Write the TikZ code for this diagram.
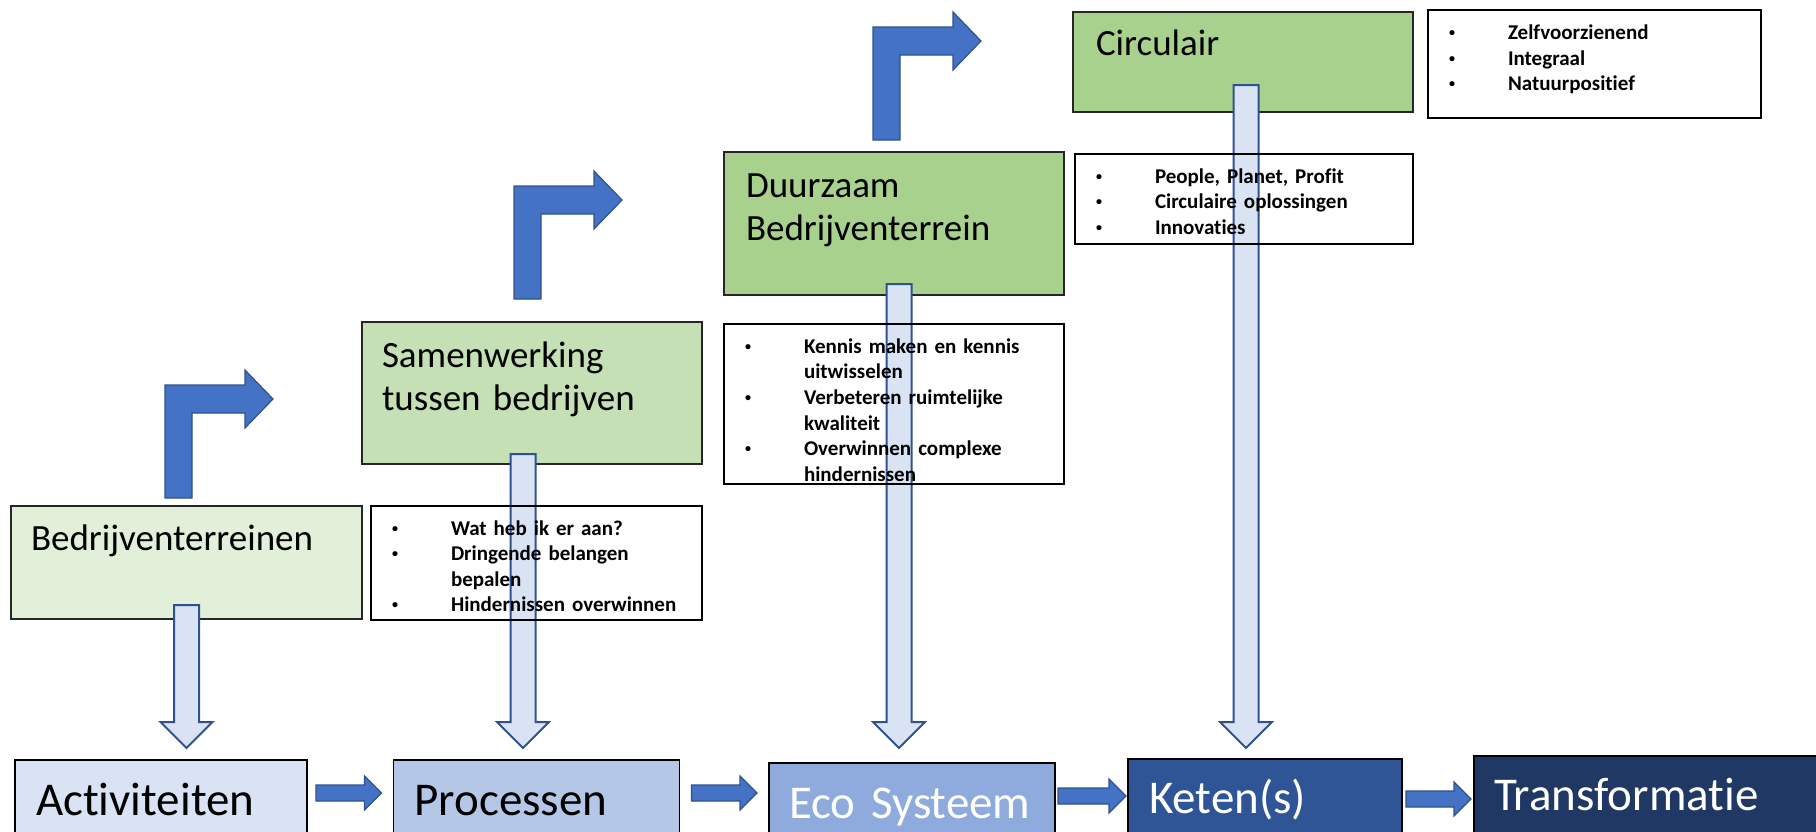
\documentclass[tikz,border=0pt]{standalone}
\usepackage{fontspec}
\setmainfont{Carlito}[Ligatures=NoCommon]
\usepackage{xcolor}
\usetikzlibrary{calc}

\definecolor{green1}{HTML}{E2F0D9}
\definecolor{green2}{HTML}{C5E0B4}
\definecolor{green3}{HTML}{A9D18E}
\definecolor{blue1}{HTML}{DAE3F3}
\definecolor{blue2}{HTML}{B4C7E7}
\definecolor{blue3}{HTML}{8FAADC}
\definecolor{blue4}{HTML}{2F5597}
\definecolor{blue5}{HTML}{203864}
\definecolor{arrowblue}{HTML}{4472C4}
\definecolor{arrowedge}{HTML}{2F528F}

% bullet lines
\newcommand{\bitem}[1]{\makebox[60pt][l]{\hspace{1pt}\raisebox{3pt}{\fontsize{12}{12}\selectfont\textbullet}}#1}
\newcommand{\bcont}[1]{\hspace*{60pt}#1}

% block arrows
\newcommand{\downblock}[2]{%
  \draw[hollowarrow] let \p1=(#1), \p2=(#2) in
    (\x1-12.5pt,\y1) -- (\x1+12.5pt,\y1) -- (\x1+12.5pt,\y2+26pt) -- (\x1+26pt,\y2+26pt)
    -- (\x1,\y2) -- (\x1-26pt,\y2+26pt) -- (\x1-12.5pt,\y2+26pt) -- cycle;}
\newcommand{\rightblock}[2]{%
  \draw[flowarrow] let \p1=(#1), \p2=(#2) in
    (\x1,\y1+8pt) -- (\x2-17pt,\y1+8pt) -- (\x2-17pt,\y1+17pt) -- (\x2,\y1)
    -- (\x2-17pt,\y1-17pt) -- (\x2-17pt,\y1-8pt) -- (\x1,\y1-8pt) -- cycle;}
\newcommand{\bentblock}[1]{%
  \draw[flowarrow] let \p1=(#1) in
    (\x1,\y1) -- (\x1,\y1+113pt) -- (\x1+80pt,\y1+113pt) -- (\x1+80pt,\y1+128pt)
    -- (\x1+108pt,\y1+99pt) -- (\x1+80pt,\y1+70pt) -- (\x1+80pt,\y1+85pt)
    -- (\x1+27pt,\y1+85pt) -- (\x1+27pt,\y1) -- cycle;}

\begin{document}
\begin{tikzpicture}[x=1pt,y=-1pt]
  \tikzstyle{basebox}=[anchor=north west,inner xsep=21pt,inner ysep=0pt,outer sep=0pt,align=left,line width=1.5pt]
  \tikzstyle{stagebox}=[basebox,draw=black!85,inner xsep=20pt,font=\fontsize{37}{43}\selectfont]
  \tikzstyle{tierbox}=[basebox,draw=black,font=\fontsize{47}{56}\selectfont,text height=55pt,text depth=40pt]
  \tikzstyle{listbox}=[basebox,draw=black,inner xsep=20pt,font=\fontsize{21}{25.6}\selectfont\bfseries]
  \tikzstyle{flowarrow}=[fill=arrowblue,draw=arrowedge,line width=1.2pt,line join=miter]
  \tikzstyle{hollowarrow}=[fill=blue1,draw=arrowedge,line width=2pt,line join=miter]

  \useasboundingbox (0,0) rectangle (1816,831);

  % bottom row
  \node[tierbox,fill=blue1,text width=250pt] (act) at (15,760) {Activiteiten};
  \node[tierbox,fill=blue2,text width=244pt] (proc) at (393.5,760) {Processen};
  \node[tierbox,fill=blue3,text=white,inner xsep=20pt,text width=246pt] (eco) at (769,763) {\mbox{Eco Systeem}};
  \node[tierbox,fill=blue4,text=white,text width=232pt,text height=54pt] (keten) at (1128,759) {Keten(s)};
  \node[tierbox,fill=blue5,text=white,inner xsep=20pt,text width=316pt,text height=54pt] (tf) at (1474,756) {Transformatie};

  % stages
  \node[stagebox,fill=green1,text width=311pt,text height=44pt,text depth=69pt] (bt) at (11,506) {Bedrijventerreinen};
  \node[stagebox,fill=green2,text width=300pt,text height=45pt,text depth=97pt] (sw) at (362,322) {Samenwerking\\tussen bedrijven};
  \node[stagebox,fill=green3,inner xsep=22pt,text width=296pt,text height=45pt,text depth=98pt] (dz) at (724,152) {Duurzaam\\Bedrijventerrein};
  \node[stagebox,fill=green3,inner xsep=23pt,text width=294pt,text height=43pt,text depth=57pt] (ci) at (1073,12) {Circulair};

  \bentblock{$(bt.north west)+(154,-8)$}
  \bentblock{$(sw.north west)+(152,-23)$}
  \bentblock{$(dz.north west)+(149,-12)$}

  \coordinate (bt-out) at ([yshift=14pt]bt.south);
  \coordinate (sw-out) at ([xshift=-9pt,yshift=10pt]sw.south);
  \coordinate (dz-out) at ([xshift=5pt,yshift=11pt]dz.south);
  \coordinate (ci-out) at ([xshift=3pt,yshift=27pt]ci.south);
  \downblock{bt-out}{$(bt-out |- act.north)+(0,-12)$}
  \downblock{sw-out}{$(sw-out |- proc.north)+(0,-12)$}
  \downblock{dz-out}{$(dz-out |- eco.north)+(0,-15)$}
  \downblock{ci-out}{$(ci-out |- keten.north)+(0,-11)$}

  % lists
  \node[listbox,text width=291pt,text height=29pt,text depth=85pt] (l1) at (371,506)
    {\bitem{Wat heb ik er aan?}\\\bitem{Dringende belangen}\\\bcont{bepalen}\\\bitem{Hindernissen overwinnen}};
  \node[listbox,text width=300pt,text height=29.3pt,text depth=130.7pt] (l2) at (724,324)
    {\bitem{Kennis maken en kennis}\\\bcont{uitwisselen}\\\bitem{Verbeteren ruimtelijke}\\\bcont{kwaliteit}\\\bitem{Overwinnen complexe}\\\bcont{hindernissen}};
  \node[listbox,text width=298pt,text height=29.3pt,text depth=60.7pt] (l3) at (1075,154)
    {\bitem{People, Planet, Profit}\\\bitem{Circulaire oplossingen}\\\bitem{Innovaties}};
  \node[listbox,text width=293pt,text height=29.5pt,text depth=78.5pt] (l4) at (1428,10)
    {\bitem{Zelfvoorzienend}\\\bitem{Integraal}\\\bitem{Natuurpositief}};

  \rightblock{$(act.north east)+(9,33)$}{$(proc.north west)+(-12,33)$}
  \rightblock{$(proc.north east)+(12,33)$}{$(eco.north west)+(-12,30)$}
  \rightblock{$(eco.north east)+(3,33)$}{$(keten.north west)+(-2,36)$}
  \rightblock{$(keten.north east)+(4,40)$}{$(tf.north west)+(-3,43)$}
\end{tikzpicture}
\end{document}
